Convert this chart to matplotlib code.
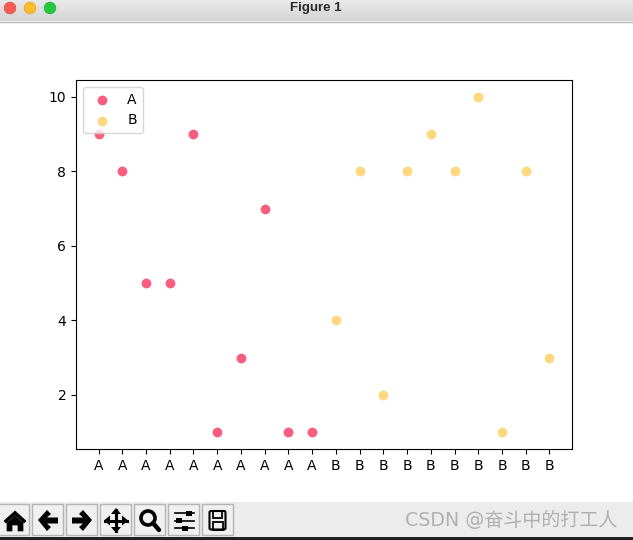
import numpy as np
import matplotlib
matplotlib.use("Agg")
import matplotlib.pyplot as plt
from matplotlib.patches import Rectangle, Circle, Polygon, FancyBboxPatch

plt.rcParams['font.family'] = ['DejaVu Sans', 'Noto Sans CJK SC']

a_labels = ['A'] * 10
b_labels = ['B'] * 10
a_values = [9, 8, 5, 5, 9, 1, 3, 7, 1, 1]
b_values = [4, 8, 2, 8, 9, 8, 10, 1, 8, 3]
a_color = '#f85f7f'
b_color = '#fed87f'
title = 'Figure 1'
watermark = 'CSDN @奋斗中的打工人'

W, H = 633, 540
fig = plt.figure(figsize=(W / 100, H / 100), dpi=100, facecolor='white')
ax = fig.add_axes([76 / W, 1 - 449 / H, 496 / W, 369 / H])
xa = np.arange(len(a_values))
xb = np.arange(len(b_values)) + len(a_values)
ax.scatter(xa, a_values, s=50, color=a_color, linewidths=0, label='A')
ax.scatter(xb, b_values, s=50, color=b_color, linewidths=0, label='B')
ax.set_xticks(np.r_[xa, xb])
ax.set_xticklabels(a_labels + b_labels)
ax.set_yticks([2, 4, 6, 8, 10])
ax.legend(loc='upper left')

# window chrome, drawn in pixel coordinates
ov = fig.add_axes([0, 0, 1, 1], zorder=5)
ov.set_xlim(0, W)
ov.set_ylim(H, 0)
ov.axis('off')
ov.patch.set_alpha(0)

ov.imshow(np.linspace(0.91, 0.83, 32).reshape(-1, 1), cmap='gray', vmin=0, vmax=1,
          extent=(0, W, 21, 0), aspect='auto', interpolation='bilinear')
ov.set_xlim(0, W)
ov.set_ylim(H, 0)
ov.plot([0, W], [21.5, 21.5], color='#b5b5b5', lw=1)
for cx, fc, ec in [(10, '#fc5b57', '#e0443e'), (30, '#fdbc2e', '#dea123'), (50, '#27c83f', '#1aab29')]:
    ov.add_patch(Circle((cx, 8), 5.8, fc=fc, ec=ec, lw=0.5))
ov.text(316, 8, title, ha='center', va='center', fontsize=9.5, fontweight='bold',
        family='Liberation Sans', color='#2a2a2a')

ov.add_patch(Rectangle((0, 502), W, 35, fc='#ececec', ec='none'))
ov.add_patch(Rectangle((0, 537), W, 3, fc='#222222', ec='none'))
for bx in [-2, 32, 66, 100, 134, 168, 202]:
    ov.add_patch(Rectangle((bx, 504), 31, 31, fc='#f0f0f0', ec='#b4b4b4', lw=1))

k = 'black'
# home
ov.add_patch(Polygon([(4, 521), (15, 511), (26, 521), (24, 523), (15, 515), (6, 523)], fc=k, ec=k, lw=0.5))
ov.add_patch(Polygon([(7, 523), (15, 516), (23, 523), (23, 531), (18, 531), (18, 525), (12, 525), (12, 531), (7, 531)], fc=k, ec=k, lw=0.5))
# arrows
ov.add_patch(Polygon([(38, 520), (47, 510), (51, 514), (47, 517.5), (58, 517.5), (58, 523.5), (47, 523.5), (51, 527), (47, 531)], fc=k))
ov.add_patch(Polygon([(92, 520), (83, 510), (79, 514), (83, 517.5), (72, 517.5), (72, 523.5), (83, 523.5), (79, 527), (83, 531)], fc=k))
# move
ov.plot([105, 127], [520.5, 520.5], color=k, lw=2.2)
ov.plot([116, 116], [510, 531], color=k, lw=2.2)
ov.add_patch(Polygon([(116, 508), (111, 514), (121, 514)], fc=k))
ov.add_patch(Polygon([(116, 533), (111, 527), (121, 527)], fc=k))
ov.add_patch(Polygon([(104, 520.5), (110, 515.5), (110, 525.5)], fc=k))
ov.add_patch(Polygon([(128, 520.5), (122, 515.5), (122, 525.5)], fc=k))
# zoom
ov.add_patch(Circle((148, 518), 7, fc='none', ec=k, lw=2.6))
ov.plot([153, 159], [523, 530], color=k, lw=3.2, solid_capstyle='round')
# sliders
for yy, xk in [(513, 188), (520.5, 178), (528, 184)]:
    ov.plot([175, 194], [yy, yy], color=k, lw=1.2)
    ov.add_patch(Rectangle((xk - 2.5, yy - 2.5), 6, 5, fc=k, ec='none'))
# save
ov.add_patch(FancyBboxPatch((209.5, 511), 16, 18.5, boxstyle='round,pad=0,rounding_size=1.5', fc='none', ec=k, lw=1.5))
ov.add_patch(Rectangle((213, 511), 9, 6.5, fc='none', ec=k, lw=1.3))
ov.add_patch(Rectangle((212.5, 522), 10, 7.5, fc='none', ec=k, lw=1.3))

ov.text(511.5, 520, watermark, ha='center', va='center', fontsize=13.7, color='#b0b0b0')

fig.savefig('out.png', dpi=100, facecolor='white')
